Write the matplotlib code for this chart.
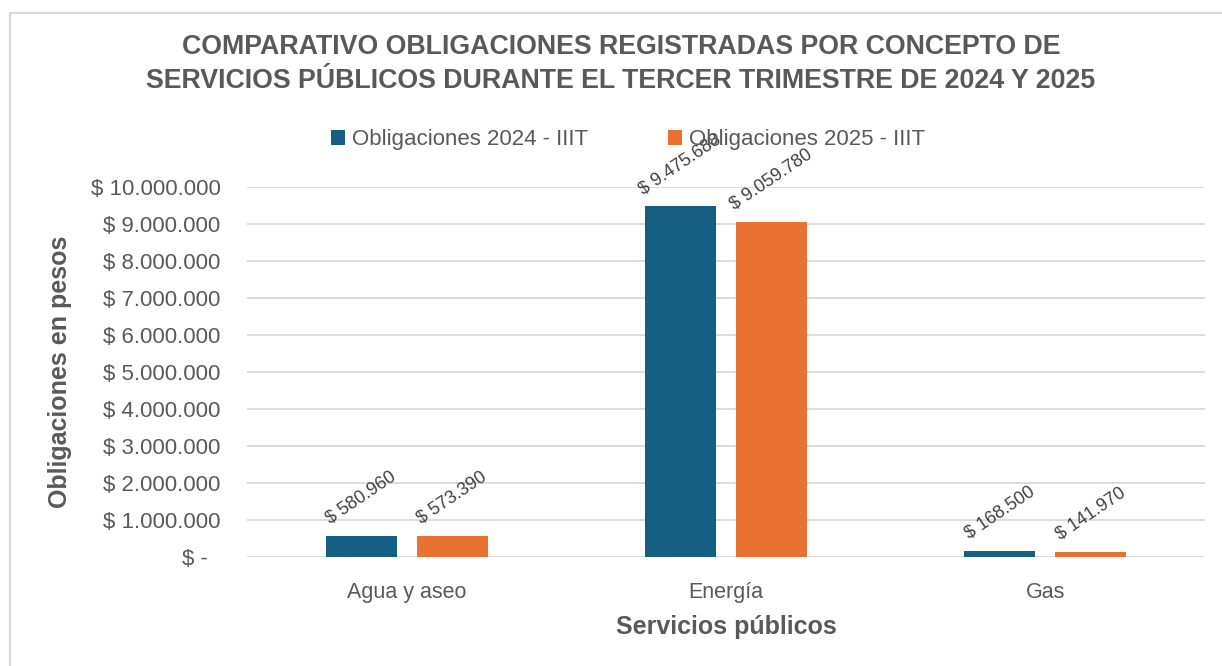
import matplotlib
matplotlib.use("Agg")
import matplotlib.pyplot as plt
import numpy as np
from matplotlib.lines import Line2D
from matplotlib.ticker import FuncFormatter

categories = ["Agua y aseo", "Energía", "Gas"]
series_names = ["Obligaciones 2024 - IIIT", "Obligaciones 2025 - IIIT"]
values_2024 = [580960, 9475688, 168500]
values_2025 = [573390, 9059780, 141970]
colors = ["#156082", "#E97132"]

plt.rcParams['font.family'] = ['Liberation Sans', 'DejaVu Sans']
text_gray = "#595959"

W, H = 1222, 666
fig = plt.figure(figsize=(W/100, H/100), dpi=100)
fig.patch.set_facecolor("white")

# outer border (chart area frame: left and top visible)
fig.lines.append(Line2D([9.5/W, 9.5/W], [0, 1 - 13/H], transform=fig.transFigure,
                        color="#d9d9d9", linewidth=1.5))
fig.lines.append(Line2D([9.5/W, 1], [1 - 13/H, 1 - 13/H], transform=fig.transFigure,
                        color="#d9d9d9", linewidth=1.5))

ax = fig.add_axes([247/W, 1 - 557/H, 958/W, 370/H])
x = np.arange(len(categories))
bw = 0.2226
off = 0.1426
bars1 = ax.bar(x - off, values_2024, bw, color=colors[0], label=series_names[0], zorder=3)
bars2 = ax.bar(x + off, values_2025, bw, color=colors[1], label=series_names[1], zorder=3)

ax.set_xlim(-0.5, 2.5)
ax.set_ylim(0, 10000000)
ax.set_yticks(np.arange(0, 10000001, 1000000))

def fmt(v, pos=None):
    if v == 0:
        return "$ -  "
    return "$ " + f"{int(v):,}".replace(",", ".")

ax.yaxis.set_major_formatter(FuncFormatter(fmt))
ax.grid(axis="y", color="#d9d9d9", linewidth=1.3, zorder=0)
for s in ax.spines.values():
    s.set_visible(False)
ax.tick_params(axis="y", length=0, pad=19, labelsize=16, labelcolor=text_gray)
ax.tick_params(axis="x", length=0, pad=18, labelsize=15.5, labelcolor=text_gray)
ax.set_xticks(x)
ax.set_xticklabels(categories)

for bars, vals in ((bars1, values_2024), (bars2, values_2025)):
    for b, v in zip(bars, vals):
        ax.annotate(fmt(v), (b.get_x() + b.get_width()/2, v), xytext=(0, 6),
                    textcoords="offset points", ha="center", va="bottom",
                    rotation=34, fontsize=13, color="#404040", zorder=4)

ax.set_ylabel("Obligaciones en pesos", fontsize=18, fontweight="bold", color=text_gray)
ax.set_xlabel("Servicios públicos", fontsize=18, fontweight="bold", color=text_gray)
ax.yaxis.set_label_coords((60 - 247) / 958, 0.5)
ax.xaxis.set_label_coords(0.5, -(627 - 557) / 370)
ax.xaxis.label.set_va("center")
ax.yaxis.label.set_va("center")

fig.text(621/W, 1 - 64/H,
         "COMPARATIVO OBLIGACIONES REGISTRADAS POR CONCEPTO DE\nSERVICIOS PÚBLICOS DURANTE EL TERCER TRIMESTRE DE 2024 Y 2025",
         ha="center", va="center", fontsize=19.3, fontweight="bold", color=text_gray,
         linespacing=1.35)

leg = fig.legend(loc="center", bbox_to_anchor=(628/W, 1 - 140/H), ncol=2, frameon=False,
                 fontsize=16, handlelength=0.65, handleheight=0.65, handletextpad=0.3,
                 columnspacing=3.6, labelcolor=text_gray)

fig.savefig("out.png", dpi=100, facecolor="white")
